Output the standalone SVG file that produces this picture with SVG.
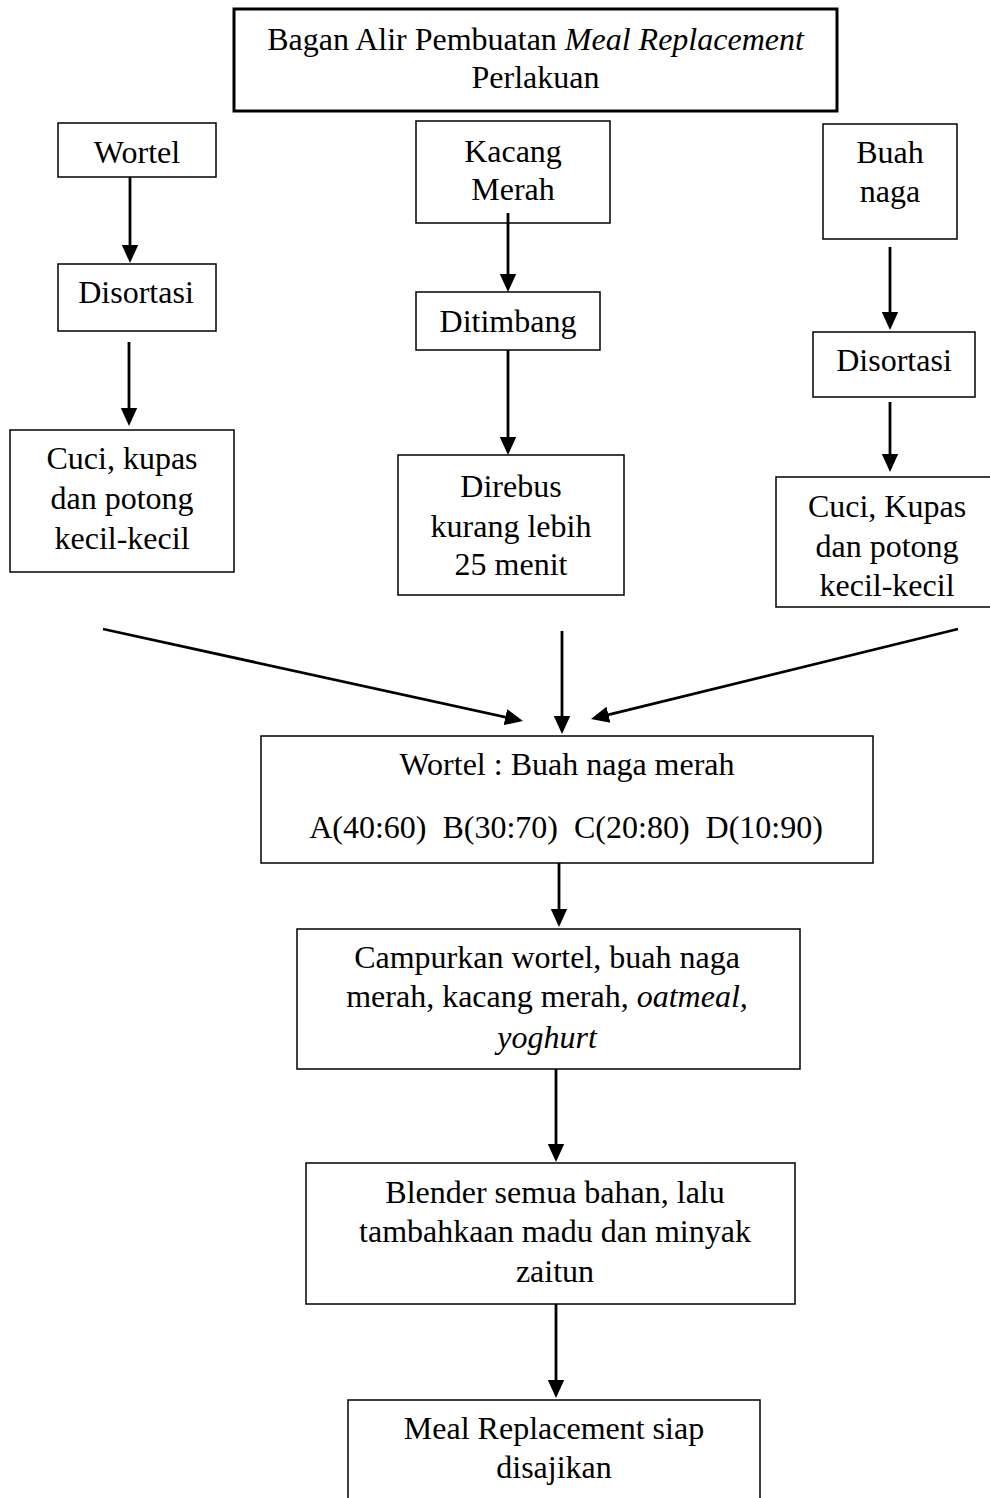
<svg xmlns="http://www.w3.org/2000/svg" width="990" height="1498" viewBox="0 0 990 1498">
<style>
  .box { fill: #ffffff; stroke: #000000; stroke-width: 1.5; }
  .title { fill: #ffffff; stroke: #000000; stroke-width: 3; }
  text { font-family: "Liberation Serif", "Times New Roman", serif; font-size: 32px; fill: #000000; text-anchor: middle; }
  .it { font-style: italic; }
  .conn line { stroke: #000000; stroke-width: 2.8; marker-end: url(#ah); }
</style>
<defs>
  <marker id="ah" markerUnits="userSpaceOnUse" markerWidth="18" markerHeight="18" viewBox="0 0 18 18" refX="9" refY="9" orient="auto">
    <path d="M0,0.8 L18,9 L0,17.2 Z" fill="#000000"/>
  </marker>
</defs>
<rect x="0" y="0" width="990" height="1498" fill="#ffffff"/>

<g id="title">
  <rect class="title" x="234" y="9" width="603" height="102"/>
  <text x="535.5" y="50">Bagan Alir Pembuatan <tspan class="it">Meal Replacement</tspan></text>
  <text x="535.5" y="88">Perlakuan</text>
</g>

<g id="wortel">
  <rect class="box" x="58" y="123" width="158" height="54"/>
  <text x="137" y="163">Wortel</text>
</g>
<g id="disortasi-kiri">
  <rect class="box" x="58" y="264" width="158" height="67"/>
  <text x="136" y="303">Disortasi</text>
</g>
<g id="cuci-kiri">
  <rect class="box" x="10" y="430" width="224" height="142"/>
  <text x="122" y="469">Cuci, kupas</text>
  <text x="122" y="509">dan potong</text>
  <text x="122" y="549">kecil-kecil</text>
</g>

<g id="kacang-merah">
  <rect class="box" x="416" y="121" width="194" height="102"/>
  <text x="513" y="162">Kacang</text>
  <text x="513" y="200">Merah</text>
</g>
<g id="ditimbang">
  <rect class="box" x="416" y="292" width="184" height="58"/>
  <text x="508" y="332">Ditimbang</text>
</g>
<g id="direbus">
  <rect class="box" x="398" y="455" width="226" height="140"/>
  <text x="511" y="497">Direbus</text>
  <text x="511" y="537">kurang lebih</text>
  <text x="511" y="575">25 menit</text>
</g>

<g id="buah-naga">
  <rect class="box" x="823" y="124" width="134" height="115"/>
  <text x="890" y="163">Buah</text>
  <text x="890" y="202">naga</text>
</g>
<g id="disortasi-kanan">
  <rect class="box" x="813" y="332" width="162" height="65"/>
  <text x="894" y="371">Disortasi</text>
</g>
<g id="cuci-kanan">
  <rect class="box" x="776" y="477" width="220" height="130"/>
  <text x="887" y="517">Cuci, Kupas</text>
  <text x="887" y="557">dan potong</text>
  <text x="887" y="596">kecil-kecil</text>
</g>

<g id="rasio">
  <rect class="box" x="261" y="736" width="612" height="127"/>
  <text x="567" y="775">Wortel : Buah naga merah</text>
  <text x="566" y="838" xml:space="preserve">A(40:60)  B(30:70)  C(20:80)  D(10:90)</text>
</g>

<g id="campurkan">
  <rect class="box" x="297" y="929" width="503" height="140"/>
  <text x="547" y="968">Campurkan wortel, buah naga</text>
  <text x="547" y="1007">merah, kacang merah, <tspan class="it">oatmeal,</tspan></text>
  <text x="547" y="1048" class="it">yoghurt</text>
</g>

<g id="blender">
  <rect class="box" x="306" y="1163" width="489" height="141"/>
  <text x="555" y="1203">Blender semua bahan, lalu</text>
  <text x="555" y="1242">tambahkaan madu dan minyak</text>
  <text x="555" y="1282">zaitun</text>
</g>

<g id="meal-siap">
  <rect class="box" x="348" y="1400" width="412" height="120"/>
  <text x="554" y="1439">Meal Replacement siap</text>
  <text x="554" y="1478">disajikan</text>
</g>

<g id="connectors" class="conn">
  <line x1="130" y1="177" x2="130" y2="254"/>
  <line x1="129" y1="342" x2="129" y2="417"/>
  <line x1="508" y1="213" x2="508" y2="283"/>
  <line x1="508" y1="350" x2="508" y2="446"/>
  <line x1="890" y1="247" x2="890" y2="321"/>
  <line x1="890" y1="402" x2="890" y2="463"/>
  <line x1="103" y1="629" x2="514.2" y2="719.1"/>
  <line x1="562" y1="631" x2="562" y2="725"/>
  <line x1="958" y1="629" x2="599.7" y2="716.9"/>
  <line x1="559" y1="863" x2="559" y2="918"/>
  <line x1="556" y1="1069" x2="556" y2="1153"/>
  <line x1="556" y1="1304" x2="556" y2="1389"/>
</g>
</svg>
